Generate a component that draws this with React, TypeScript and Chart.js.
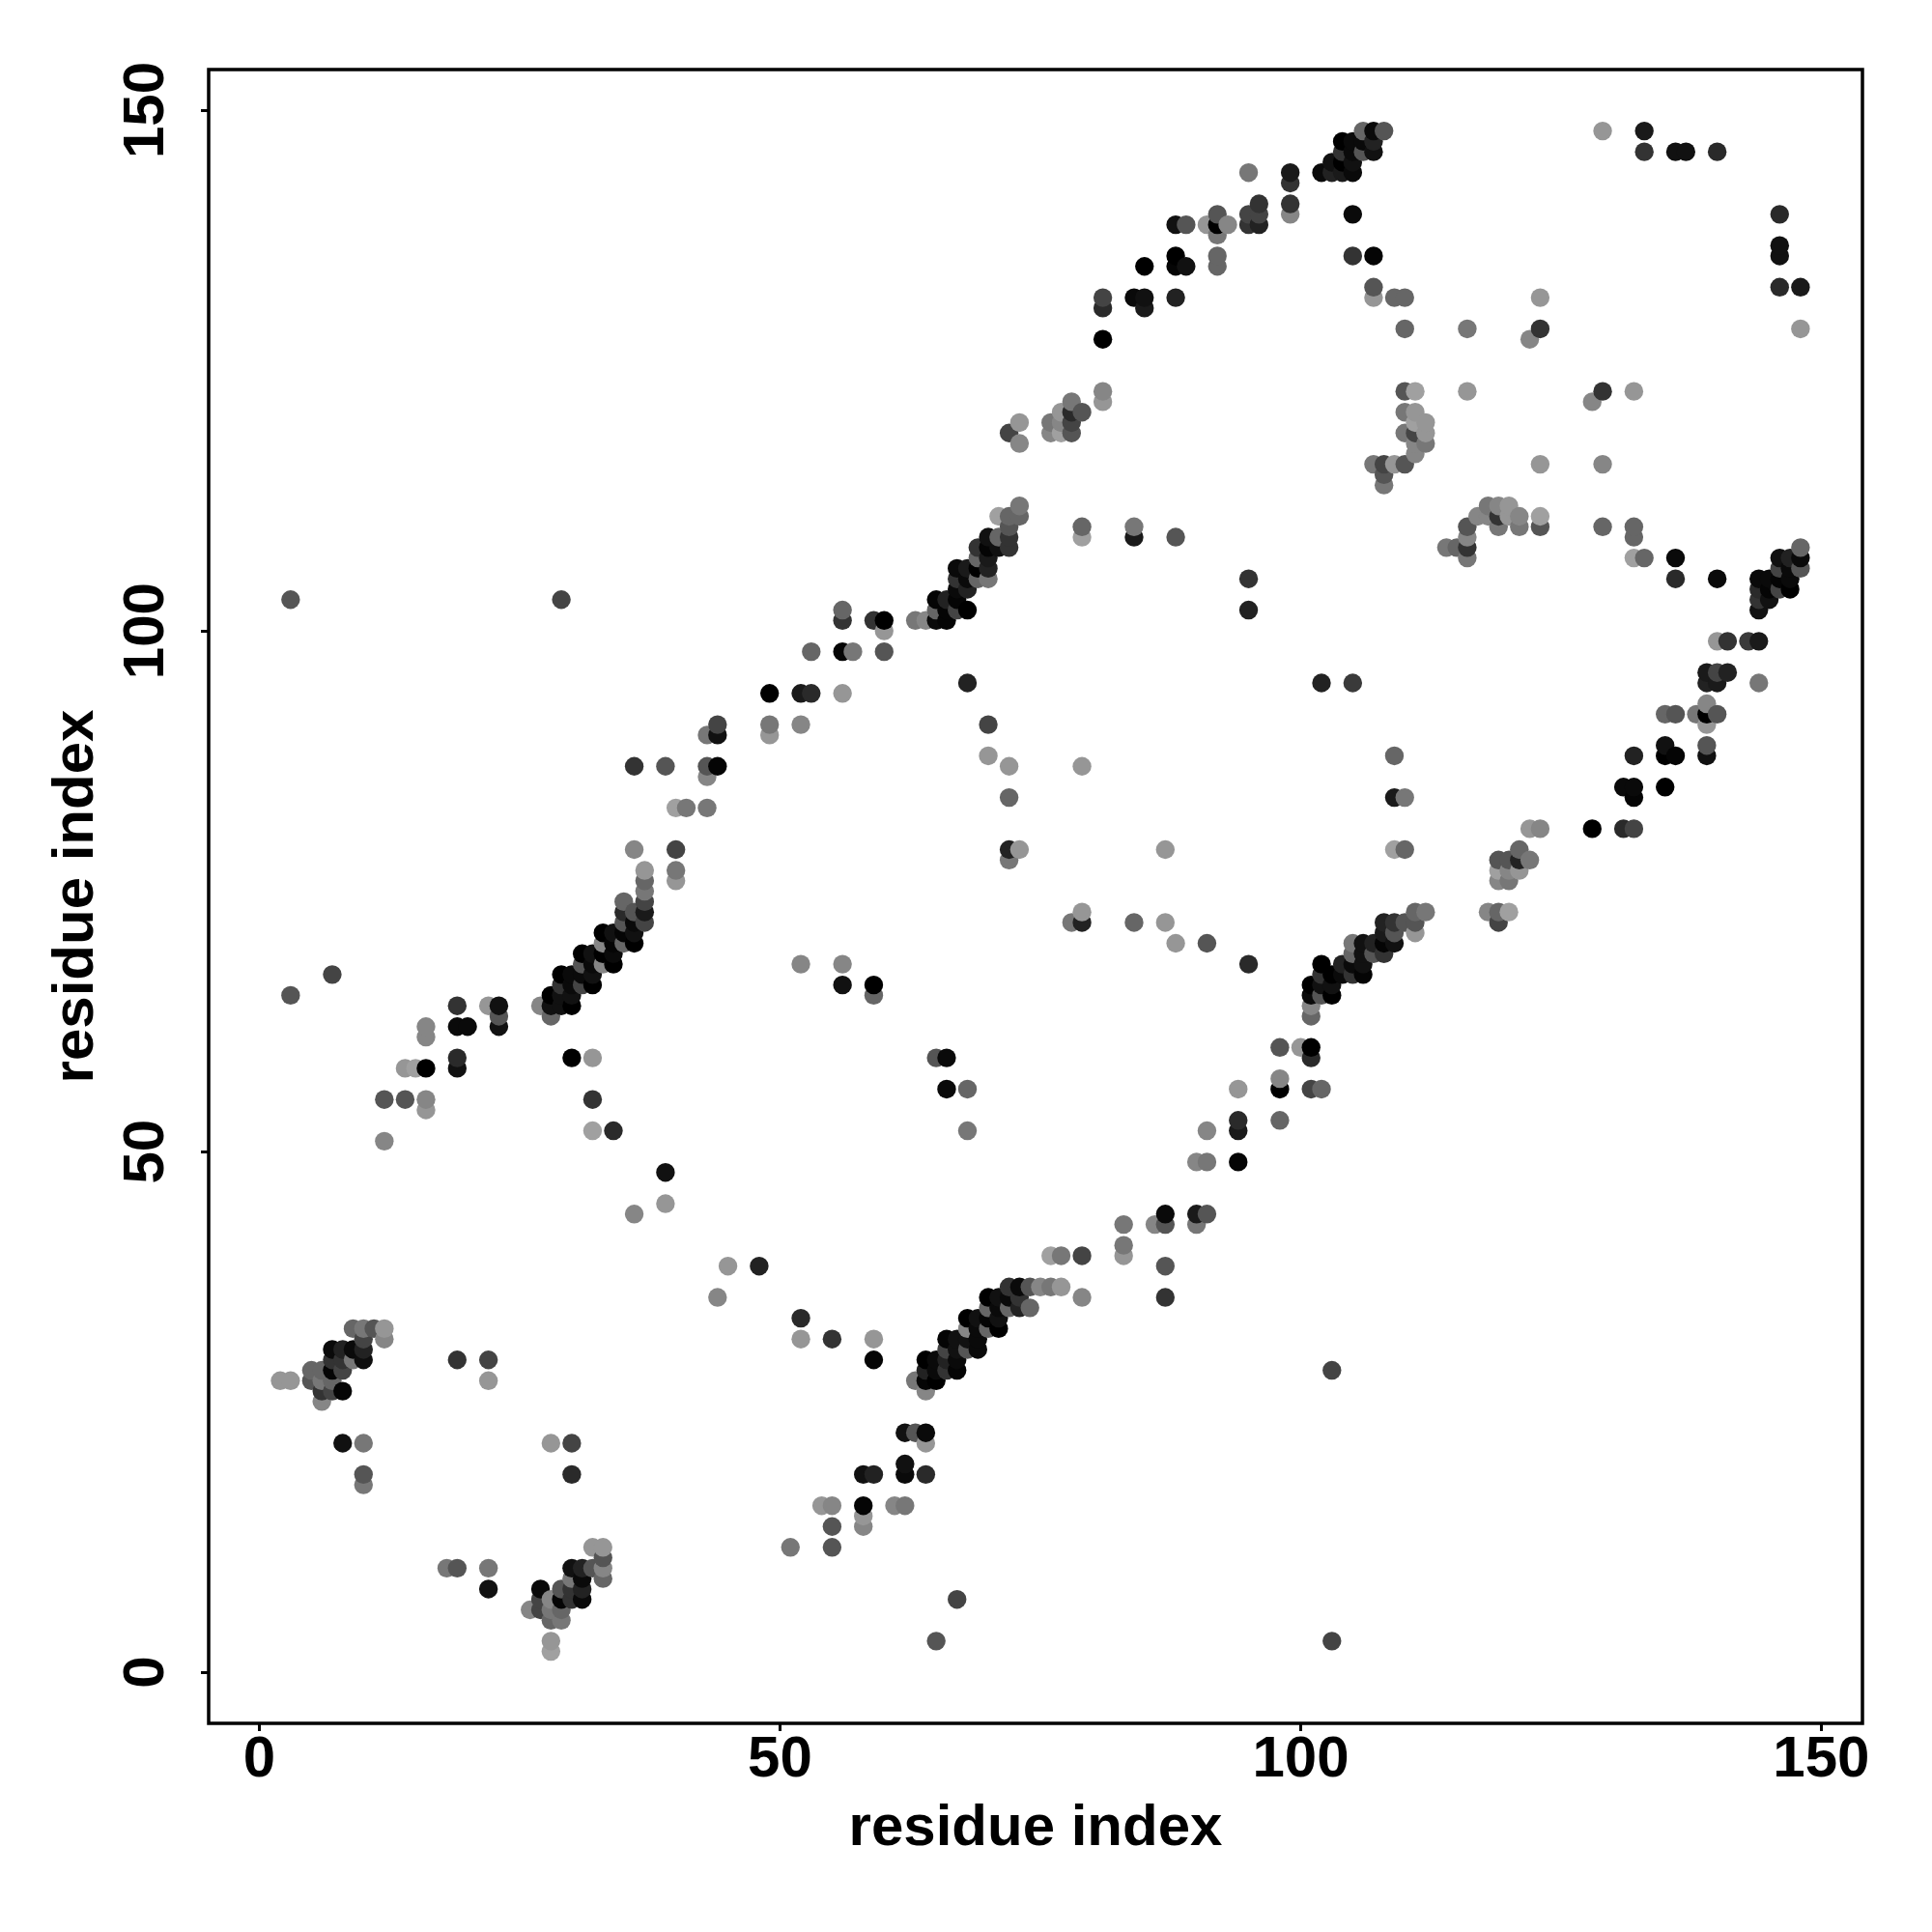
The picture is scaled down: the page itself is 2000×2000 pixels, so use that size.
import React, { useEffect, useRef } from "react";
import { Chart, registerables } from "chart.js";

Chart.register(...registerables);

// Each contact: [residue i, residue j, grey level of the dot]
type Contact = [number, number, number];

const tickValues = [0, 50, 100, 150];
const axisTitle = "residue index";

const lowerStrandA: Contact[] = [
  [9,33,0x66],[10,33,0x77],[11,33,0x55],[12,33,0x96],[12,32,0x86],[10,32,0x44],[7,31,0x0a],[8,31,0x22],[9,31,0x0a],[10,31,0x22],
  [10,30,0x0e],[9,30,0x77],[8,30,0x33],[7,30,0x33],[7,29,0x05],[8,29,0x44],[5,29,0x66],[6,29,0x66],[5,28,0x55],[6,28,0x77],
  [7,28,0x66],[2,28,0x96],[3,28,0x96],[6,27,0x33],[7,27,0x44],[8,27,0x05],[6,26,0x86],[19,30,0x33],[22,30,0x44],[22,28,0x96],
  [8,22,0x11],[10,22,0x77],[28,22,0x96],[30,22,0x44],[10,19,0x55],[10,18,0x77],[30,19,0x2a],
];
const lowerStrandB: Contact[] = [
  [32,12,0x96],[33,12,0x96],[33,11,0x55],[33,10,0x86],[33,9,0x66],[30,10,0x11],[31,10,0x22],[32,10,0x55],[18,10,0x77],[19,10,0x55],
  [22,10,0x77],[22,8,0x11],[30,9,0x77],[31,9,0x0a],[31,8,0x22],[27,8,0x0a],[29,8,0x55],[30,8,0x33],[27,7,0x44],[29,7,0x05],
  [30,7,0x33],[31,7,0x0a],[28,7,0x86],[26,6,0x86],[27,6,0x44],[28,6,0x77],[29,6,0x66],[28,5,0x66],[29,5,0x77],[28,3,0x96],[28,2,0xa0],
];
const lowerDiagonalA: Contact[] = [
  [39,45,0x96],[36,44,0x86],[45,39,0x96],[48,39,0x22],[44,36,0x86],[52,34,0x2a],[52,32,0x96],[55,32,0x33],[59,32,0x96],[59,30,0x05],
  [67,7,0x44],[65,3,0x55],[103,3,0x44],[103,29,0x44],[51,12,0x77],[55,12,0x55],[55,14,0x55],[54,16,0x96],[55,16,0x86],[58,16,0x05],[58,15,0x96],[58,14,0x86],
  [61,16,0x86],[62,16,0x77],[58,19,0x11],[59,19,0x22],[62,20,0x11],[62,19,0x0a],[64,19,0x2a],[62,23,0x11],[63,23,0x55],[64,23,0x0a],[64,22,0x96],
  [63,28,0x77],[64,27,0x86],[64,30,0x00],[65,30,0x0a],[64,29,0x22],[65,29,0x0a],[64,28,0x05],[65,28,0x00],[66,32,0x05],[67,32,0x11],
  [66,31,0x44],[67,31,0x11],[66,30,0x22],[67,30,0x0a],[66,29,0x33],[67,29,0x05],[68,34,0x00],[69,34,0x11],[68,33,0x86],[69,33,0x0a],
  [68,32,0x11],[69,32,0x0a],[68,31,0x55],[69,31,0x0a],[70,36,0x00],[71,36,0x11],[70,35,0x66],[71,35,0x0a],[70,34,0x05],[71,34,0x11],
  [70,33,0x66],[71,33,0x00],[72,37,0x33],[73,37,0x0a],[72,36,0x0a],[73,36,0x33],[72,35,0x66],[73,35,0x22],[74,37,0x55],[74,35,0x66],
  [75,37,0x86],[76,37,0x77],[77,37,0x96],[79,36,0x86],
];
const lowerDiagonalB: Contact[] = [
  [76,40,0xa0],[77,40,0x77],[79,40,0x44],[83,43,0x77],[83,41,0x77],[83,40,0x96],[86,43,0x86],[87,43,0x55],[87,44,0x0a],[87,39,0x55],[87,36,0x33],
  [90,44,0x1a],[91,44,0x55],[90,43,0x77],[90,49,0x86],[91,49,0x77],[94,49,0x05],[91,52,0x86],[94,53,0x2a],[94,52,0x1a],[98,53,0x66],
  [94,56,0x96],[98,57,0x86],[98,56,0x00],[101,56,0x44],[102,56,0x66],[98,60,0x55],[100,60,0x96],[101,60,0x00],[101,59,0x2a],[101,64,0x86],[101,63,0x66],
  [101,66,0x00],[101,65,0x0a],[102,65,0x55],[103,65,0x00],[102,67,0x33],[102,68,0x00],[103,67,0x00],[103,66,0x11],[102,66,0x11],
  [104,68,0x22],[104,67,0x0a],[105,67,0x33],[105,68,0x0a],[106,67,0x05],[106,68,0x11],[105,70,0x77],[105,69,0x66],[106,70,0x11],[106,69,0x11],
  [107,70,0x22],[107,69,0x55],[108,69,0x33],[108,70,0x05],[109,70,0x11],[109,71,0x55],[108,72,0x22],[109,72,0x33],[108,71,0x1a],[110,72,0x55],
  [111,73,0x66],[112,73,0x77],[111,72,0x55],[111,71,0x96],
  [78,72,0x77],[79,72,0x22],[79,73,0x96],[84,72,0x66],[87,72,0x96],[88,70,0x96],[91,70,0x55],[95,68,0x2a],
];
const lowerDiagonalC: Contact[] = [
  [102,95,0x22],[105,95,0x3a],[109,88,0x66],[109,84,0x1a],[110,84,0x77],[109,79,0xa0],[110,79,0x66],[95,102,0x22],[95,105,0x33],
  [121,79,0x66],[122,78,0x77],[121,78,0x22],[120,78,0x55],[119,78,0x55],[121,77,0x96],[120,77,0x86],[119,77,0xa0],[119,76,0x86],[120,76,0x77],
  [122,81,0x96],[123,81,0x86],[128,81,0x00],[131,81,0x2a],[132,81,0x44],[131,85,0x0a],[132,85,0x0a],[132,84,0x05],[132,88,0x22],
  [118,73,0x86],[119,73,0x66],[120,73,0xa0],[119,72,0x44],[135,85,0x00],
];
const rightBand: Contact[] = [
  [123,116,0x96],[129,116,0x86],[118,112,0x77],[119,112,0x86],[120,112,0x96],[117,111,0x86],[118,111,0x86],[119,111,0x33],[120,111,0x96],[121,111,0x86],
  [123,111,0xa0],[119,110,0x77],[121,110,0x77],[123,110,0x55],[129,110,0x66],[132,110,0x66],[132,109,0x66],[116,110,0x55],[116,109,0x86],[116,108,0x33],
  [116,107,0x77],[115,108,0x66],[114,108,0x77],[132,107,0xa0],[133,107,0x66],[136,107,0x0a],[136,105,0x2a],[140,105,0x0a],
  [148,108,0x66],[148,107,0x0a],[148,106,0x55],[146,107,0x11],[147,107,0x22],[146,106,0x44],[147,106,0x0a],[144,105,0x0a],[145,105,0x0a],[146,105,0x05],
  [147,105,0x0a],[144,104,0x2a],[145,104,0x05],[146,104,0x44],[147,104,0x00],[144,103,0x33],[145,103,0x11],[144,102,0x11],
  [140,99,0x96],[141,99,0x33],[143,99,0x3a],[144,99,0x1a],[139,96,0x1a],[140,96,0x44],[141,96,0x22],[139,95,0x22],[140,95,0x1a],[144,95,0x77],
  [135,92,0x66],[136,92,0x55],[138,92,0x77],[139,93,0x86],[139,92,0x00],[140,92,0x55],[139,91,0x96],[135,89,0x11],[135,88,0x00],[136,88,0x05],[139,89,0x55],[139,88,0x11],
];
const upperRight: Contact[] = [
  [129,148,0x96],[133,148,0x1a],[133,146,0x33],[136,146,0x11],[137,146,0x11],[140,146,0x2a],[146,140,0x2a],[146,137,0x11],[146,136,0x11],[146,133,0x2a],
  [148,133,0x1a],[148,129,0x96],[123,132,0x96],[123,129,0x33],[122,128,0x86],[116,129,0x77],[116,123,0x96],[129,123,0x33],[128,122,0x86],[132,123,0x96],
];
const upperDiagonalA: Contact[] = [
  [106,148,0x66],[107,148,0x0a],[108,148,0x55],[104,147,0x00],[105,147,0x0a],[106,147,0x0a],[107,147,0x22],[104,146,0x33],[105,146,0x0a],[106,146,0x55],[107,146,0x11],
  [103,145,0x11],[104,145,0x00],[105,145,0x11],[102,144,0x0a],[103,144,0x22],[104,144,0x1a],[105,144,0x0a],[95,144,0x77],[99,144,0x1a],[99,143,0x33],[99,141,0x33],[99,140,0x86],
  [105,140,0x0a],[105,136,0x33],[107,136,0x05],[107,133,0x55],[107,132,0x96],[109,132,0x66],[110,132,0x66],[110,129,0x66],
  [96,141,0x33],[96,140,0x44],[95,140,0x44],[95,139,0x33],[96,139,0x22],[92,140,0x55],[91,139,0x96],[92,139,0x00],[93,139,0x86],[92,138,0x77],
  [88,139,0x11],[89,139,0x55],[92,136,0x66],[92,135,0x66],[88,136,0x00],[88,135,0x05],[89,135,0x11],[85,135,0x00],
  [81,132,0x44],[81,131,0x2a],[84,132,0x0a],[85,132,0x11],[85,131,0x1a],[88,132,0x22],[81,128,0x00],[81,123,0x86],[81,122,0x96],
  [78,122,0x77],[79,121,0x55],[77,121,0x96],[78,121,0x2a],[78,120,0x44],[77,120,0x86],[76,120,0x77],[76,119,0x86],[77,119,0xa0],[78,119,0x55],
  [72,119,0x44],[73,120,0x96],[73,118,0x86],
  [110,123,0x55],[111,123,0xa0],[110,121,0x77],[111,121,0x96],[112,120,0x96],[111,120,0xa0],[110,119,0x77],[111,119,0x44],[112,119,0x96],[112,118,0x77],
  [111,118,0x86],[111,117,0x86],[110,116,0x55],[109,116,0x96],[107,116,0x77],[108,116,0x44],[108,115,0x55],[108,114,0x77],
];
const upperDiagonalB: Contact[] = [
  [73,112,0x77],[73,111,0x66],[71,111,0xa0],[72,111,0x66],[72,110,0x55],[72,109,0x33],[72,108,0x33],[70,109,0x11],[71,109,0x66],[70,108,0x05],[71,108,0x11],
  [69,108,0x33],[69,107,0x66],[70,107,0x1a],[70,106,0x22],[69,106,0x00],[70,105,0x77],[69,105,0x66],[67,106,0x0a],[68,106,0x1a],[67,105,0x33],[68,105,0x0a],
  [68,104,0x22],[67,104,0x0a],[65,103,0x05],[66,103,0x22],[67,103,0x05],[68,102,0x00],[67,102,0x44],[66,102,0x05],[65,102,0x66],[65,101,0x0a],[66,101,0x05],[64,101,0x86],[63,101,0x77],
  [56,102,0x66],[56,101,0x33],[59,101,0x33],[60,101,0x00],[60,100,0x96],[53,98,0x66],[56,98,0x05],[57,98,0x77],[60,98,0x55],
  [49,94,0x00],[52,94,0x1a],[53,94,0x2a],[56,94,0x96],[49,91,0x77],[49,90,0x96],[52,91,0x86],
  [68,95,0x22],[70,91,0x44],[70,88,0x96],[72,87,0x96],[79,87,0x96],[72,84,0x66],[72,79,0x22],[73,79,0x96],[72,78,0x77],[87,79,0x96],
  [79,110,0x66],[79,109,0xa0],[84,110,0x77],[84,109,0x1a],[88,109,0x55],
];
const upperLeftStrand: Contact[] = [
  [36,87,0x33],[39,87,0x55],[43,87,0x55],[44,87,0x05],[43,86,0x86],[43,90,0x77],[44,91,0x44],[44,90,0x11],[40,83,0xa0],[41,83,0x77],[43,83,0x77],
  [36,79,0x86],[40,79,0x44],[40,77,0x77],[40,76,0x96],[37,77,0x96],[37,76,0x66],[37,75,0x77],[37,74,0x44],[37,73,0x1a],[37,72,0x44],
  [36,73,0x55],[35,74,0x66],[35,73,0x2a],[35,72,0x55],[36,72,0x0a],[36,71,0x11],[36,70,0x00],[35,70,0x66],[35,71,0x05],
  [33,71,0x00],[34,71,0x11],[33,70,0x86],[34,70,0x05],[34,69,0x0a],[34,68,0x00],[33,68,0x86],[33,69,0x00],
  [31,69,0x00],[32,69,0x11],[31,68,0x55],[32,68,0x0a],[32,67,0x11],[32,66,0x00],[31,66,0x44],[31,67,0x0a],
  [29,67,0x00],[30,67,0x0a],[29,66,0x33],[30,66,0x0a],[30,65,0x11],[30,64,0x00],[28,65,0x00],[29,65,0x11],[28,64,0x11],[29,64,0x11],[27,64,0x86],[28,63,0x66],
  [22,64,0x96],[23,64,0x11],[23,63,0x55],[23,62,0x11],[30,59,0x00],[32,59,0x96],[32,55,0x33],[32,52,0xa0],[34,52,0x2a],
  [52,68,0x86],[56,68,0x86],[56,66,0x11],[59,66,0x00],[59,65,0x66],
  [7,67,0x44],[3,65,0x55],[19,64,0x33],[19,62,0x0a],[20,62,0x0a],[16,62,0x86],[16,61,0x86],[14,58,0x96],[15,58,0xa0],[16,58,0x00],[19,59,0x2a],[19,58,0x11],
  [12,55,0x55],[14,55,0x55],[16,55,0x86],[16,54,0x96],[12,51,0x86],[3,103,0x55],[29,103,0x44],
  [65,59,0x55],[66,59,0x0a],[66,56,0x0a],[68,56,0x66],[68,52,0x77],[39,48,0x11],
];

const allGroups = [
  lowerStrandA, lowerStrandB, lowerDiagonalA, lowerDiagonalB, lowerDiagonalC, rightBand,
  upperRight, upperDiagonalA, upperDiagonalB, upperLeftStrand,
];

export default function App() {
  const ref = useRef<HTMLCanvasElement | null>(null);

  useEffect(() => {
    document.body.style.margin = "0";
    const sorted = allGroups
      .flat()
      .slice()
      .sort((a, b) => a[0] - b[0] || a[1] - b[1]);
    const frame = {
      id: "frame",
      beforeDraw(chart: any) {
        // Rotated y tick labels are centred on their tick, as in the reference.
        chart.scales.y.getLabelItems(chart.chartArea).forEach((item: any) => {
          item.options.textAlign = "center";
        });
      },
      afterDatasetsDraw(chart: any) {
        const { left, top, width, height } = chart.chartArea;
        const ctx = chart.ctx;
        ctx.save();
        ctx.strokeStyle = "#000";
        ctx.lineWidth = 3.5;
        ctx.strokeRect(left, top, width, height);
        ctx.restore();
      },
    };
    const font = { family: "'Liberation Sans', Arial, sans-serif", weight: "bold" as const, size: 60, lineHeight: 1 };
    const fixTicks = (scale: any) => {
      scale.ticks = tickValues.map((value) => ({ value }));
    };
    const chart = new Chart(ref.current as HTMLCanvasElement, {
      type: "scatter",
      data: {
        datasets: [
          {
            data: sorted.map((c) => ({ x: c[0], y: c[1] })),
            backgroundColor: sorted.map((c) => `rgb(${c[2]},${c[2]},${c[2]})`),
            borderWidth: 0,
            pointRadius: 9.7,
            showLine: false,
          },
        ],
      },
      options: {
        animation: false,
        responsive: false,
        devicePixelRatio: 1,
        layout: { padding: { top: 72, right: 72, bottom: 0, left: 0 } },
        plugins: { legend: { display: false }, tooltip: { enabled: false } },
        scales: {
          x: {
            type: "linear",
            min: -4.87,
            max: 153.95,
            afterBuildTicks: fixTicks,
            afterFit: (s: any) => {
              s.height = 216;
              s.paddingLeft = 0;
              s.paddingRight = 0;
            },
            grid: { drawOnChartArea: false, drawTicks: true, tickLength: 8, tickWidth: 3, tickColor: "#000" },
            border: { display: false },
            ticks: { color: "#000", font, padding: 0, maxRotation: 0, minRotation: 0, autoSkip: false },
            title: { display: true, text: axisTitle, color: "#000", font, padding: { top: 0, bottom: 77 } },
          },
          y: {
            type: "linear",
            min: -4.9,
            max: 153.9,
            afterBuildTicks: fixTicks,
            afterFit: (s: any) => {
              s.width = 216;
              s.paddingTop = 0;
              s.paddingBottom = 0;
            },
            grid: { drawOnChartArea: false, drawTicks: true, tickLength: 8, tickWidth: 3, tickColor: "#000" },
            border: { display: false },
            ticks: { color: "#000", font, padding: 56, minRotation: 90, maxRotation: 90, autoSkip: false },
            title: { display: true, text: axisTitle, color: "#000", font, padding: { top: 49, bottom: 0 } },
          },
        },
      },
      plugins: [frame],
    });
    return () => chart.destroy();
  }, []);

  return <canvas ref={ref} width={2000} height={2000} style={{ display: "block" }} />;
}
